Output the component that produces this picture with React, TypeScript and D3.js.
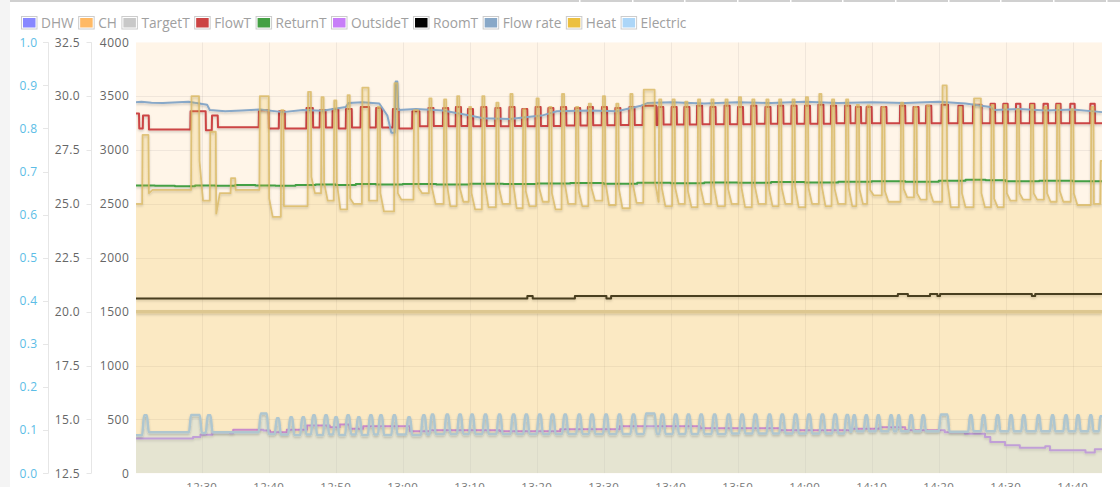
import React, { useEffect, useRef } from "react";
import * as d3 from "d3";

const W = 1120;
const H = 487;
const T0 = new Date(2024, 0, 1, 12, 20, 0).getTime();
const BEGIN = 0.19; // minutes after 12:20
const END = 144.37;

const legendNames = ["DHW", "CH", "TargetT", "FlowT", "ReturnT", "OutsideT", "RoomT", "Flow rate", "Heat", "Electric"];
const legendColors = ["#8888ff", "#ffb964", "#c8c8c8", "#cc4444", "#44a044", "#c77ef8", "#000000", "#88a8c8", "#ecc040", "#acd6f8"];

const stateTicks = [0, 0.1, 0.2, 0.3, 0.4, 0.5, 0.6, 0.7, 0.8, 0.9, 1.0];
const tempTicks = [12.5, 15, 17.5, 20, 22.5, 25, 27.5, 30, 32.5];
const heatTicks = [0, 500, 1000, 1500, 2000, 2500, 3000, 3500, 4000];

// CH state (0-1 axis) – on for the whole window
const chState: [number, number][] = [[BEGIN, 1], [END, 1]];

// TargetT (°C)
const targetT: [number, number][] = [[BEGIN, 20.0], [END, 20.0]];

// RoomT (°C), step series [minute, value]
const roomT: [number, number][] = [
  [BEGIN, 20.61], [58.6, 20.73], [59.4, 20.61], [65.7, 20.73], [70.4, 20.61], [71.1, 20.73],
  [113.9, 20.82], [115.4, 20.73], [118.7, 20.82], [119.8, 20.73], [120.2, 20.82], [133.9, 20.73], [134.4, 20.82], [END, 20.82],
];

// OutsideT (°C), step series
const outsideT: [number, number][] = [
  [BEGIN, 14.12], [8.7, 14.18], [9.8, 14.29], [11.6, 14.41], [14.2, 14.36], [14.7, 14.52], [19.2, 14.49], [20.2, 14.41],
  [22.7, 14.52], [25.7, 14.72], [29.1, 14.64], [30.6, 14.76], [32.1, 14.57], [34.1, 14.68], [41.1, 14.45], [44.1, 14.5],
  [54.5, 14.45], [63.5, 14.54], [72.4, 14.68], [84.4, 14.59], [96.3, 14.5], [106.8, 14.57], [111.2, 14.64], [115.0, 14.5],
  [120.9, 14.41], [123.9, 14.33], [126.9, 14.18], [127.7, 13.95], [129.9, 13.8], [132.1, 13.69], [135.9, 13.75],
  [136.6, 13.57], [141.9, 13.46], [143.3, 13.62], [END, 13.62],
];

// ReturnT (°C)
const returnT: [number, number][] = [
  [BEGIN, 25.86], [3, 25.84], [6, 25.82], [9, 25.86], [12, 25.84], [15, 25.88], [18, 25.86], [21, 25.84], [24, 25.88],
  [27, 25.9], [30, 25.88], [33, 25.92], [36, 25.9], [40, 25.93], [45, 25.9], [50, 25.94], [55, 25.92], [60, 25.95],
  [65, 25.97], [70, 25.94], [75, 25.98], [80, 25.96], [85, 26.0], [90, 25.98], [95, 26.02], [100, 26.0], [105, 26.03],
  [110, 26.05], [115, 26.03], [120, 26.08], [124, 26.12], [127, 26.1], [130, 26.05], [135, 26.07], [140, 26.05], [END, 26.04],
];

// Flow rate (0-1 axis)
const flowRate: [number, number][] = [
  [BEGIN, 0.861], [1.0, 0.862], [2.5, 0.86], [4.2, 0.859], [6.5, 0.861], [8.0, 0.862], [10.8, 0.855], [11.2, 0.843],
  [13.5, 0.84], [16.0, 0.842], [18.7, 0.844], [22.1, 0.838], [25.1, 0.843], [28.0, 0.841], [31.5, 0.85], [31.9, 0.859],
  [34.0, 0.861], [36.5, 0.858], [37.7, 0.83], [38.3, 0.79], [38.8, 0.79], [38.95, 0.909], [39.2, 0.909], [39.35, 0.843],
  [42.0, 0.845], [46, 0.842], [50.0, 0.83], [52, 0.824], [56, 0.822], [61.0, 0.831], [63.0, 0.84], [68, 0.842],
  [72, 0.84], [75.4, 0.852], [76.5, 0.859], [80, 0.861], [85, 0.858], [90, 0.861], [95, 0.859], [100, 0.862],
  [105, 0.859], [110, 0.861], [115, 0.859], [120, 0.862], [124, 0.858], [127.7, 0.85], [128.3, 0.843], [132, 0.845],
  [136, 0.842], [140, 0.844], [END, 0.838],
];

// FlowT pulses: [rise, fall, high °C, low °C after]
const flowTStart = 29.2;
const flowTPulses: number[][] = [
  [BEGIN, 0.65, 29.2, 28.5], [1.2, 2.1, 29.1, 28.45], [8.3, 10.6, 29.3, 28.42], [11.5, 12.4, 29.1, 28.56],
  [18.5, 20.0, 29.35, 28.5], [21.5, 22.4, 29.3, 28.5], [25.6, 26.6, 29.45, 28.55], [27.6, 28.5, 29.35, 28.55],
  [29.5, 30.4, 29.4, 28.5], [31.5, 32.4, 29.4, 28.55], [33.7, 35.0, 29.5, 28.55], [36.0, 36.9, 29.45, 28.55],
  [38.5, 39.4, 29.4, 28.5], [41.4, 42.5, 29.3, 28.6], [43.8, 44.6, 29.45, 28.62], [46.0, 46.8, 29.45, 28.6],
  [47.9, 48.7, 29.5, 28.62], [49.7, 50.5, 29.4, 28.6], [51.7, 52.5, 29.5, 28.62], [53.8, 54.6, 29.45, 28.6],
  [55.9, 56.7, 29.5, 28.62], [57.8, 58.6, 29.4, 28.6], [59.8, 60.6, 29.5, 28.62], [61.7, 62.5, 29.45, 28.62],
  [63.6, 64.4, 29.5, 28.64], [65.7, 66.5, 29.45, 28.64], [67.6, 68.4, 29.5, 28.65], [69.7, 70.5, 29.5, 28.65],
  [71.7, 72.5, 29.45, 28.66], [73.8, 74.6, 29.5, 28.66], [75.8, 77.8, 29.55, 28.66], [78.1, 78.9, 29.5, 28.68],
  [80.1, 80.9, 29.5, 28.68], [82.0, 82.8, 29.5, 28.68], [83.9, 84.7, 29.55, 28.7], [85.9, 86.7, 29.5, 28.7],
  [88.0, 88.8, 29.55, 28.7], [90.0, 90.8, 29.5, 28.7], [92.0, 92.8, 29.55, 28.72], [94.1, 94.9, 29.5, 28.72],
  [96.0, 96.8, 29.55, 28.72], [98.0, 98.8, 29.55, 28.72], [100.0, 100.8, 29.55, 28.72], [102.0, 102.8, 29.6, 28.72],
  [103.9, 104.7, 29.55, 28.74], [106.0, 106.8, 29.55, 28.74], [107.6, 108.4, 29.5, 28.74], [109.2, 110.0, 29.5, 28.74],
  [111.4, 112.2, 29.5, 28.74], [114.2, 115.0, 29.55, 28.74], [116.2, 117.0, 29.5, 28.74], [118.1, 118.9, 29.55, 28.74],
  [120.4, 121.4, 29.6, 28.74], [122.9, 123.6, 29.55, 28.74], [125.1, 126.4, 29.6, 28.74], [127.7, 128.4, 29.65, 28.74],
  [129.6, 130.3, 29.65, 28.74], [131.5, 132.2, 29.65, 28.74], [133.6, 134.3, 29.65, 28.74], [135.6, 136.3, 29.65, 28.74],
  [137.5, 138.2, 29.65, 28.74], [139.6, 140.3, 29.65, 28.74], [142.6, 143.3, 29.65, 28.74],
];

// Heat cycles: [rise, fall, peak W, level after drop W, trough W before next rise]
const heatStart = 2500;
const heatCycles: number[][] = [
  [1.1, 2.05, 3140, 2600, 2630], [8.4, 9.6, 3500, 2900, 2530], [11.2, 12.1, 3170, 2410, 2600],
  [14.3, 15.0, 2740, 2630, 2630], [18.6, 20.0, 3500, 2550, 2380], [21.8, 22.2, 3370, 2480, 2480],
  [25.8, 26.3, 3540, 2750, 2600], [27.8, 28.2, 3490, 2700, 2530], [29.7, 30.1, 3460, 2700, 2450],
  [31.7, 32.1, 3510, 2550, 2500], [33.9, 34.9, 3580, 2530, 2530], [36.2, 36.6, 3400, 2600, 2430],
  [38.7, 39.2, 3620, 2600, 2540], [41.6, 42.3, 3370, 2650, 2600], [43.9, 44.3, 3480, 2650, 2500],
  [46.1, 46.5, 3470, 2700, 2480], [48.05, 48.45, 3500, 2650, 2520], [49.85, 50.2, 3400, 2600, 2450],
  [51.8, 52.2, 3500, 2680, 2470], [53.9, 54.3, 3440, 2650, 2500], [56.0, 56.4, 3520, 2700, 2460],
  [57.9, 58.3, 3380, 2620, 2480], [59.9, 60.3, 3480, 2650, 2520], [61.8, 62.2, 3400, 2600, 2450],
  [63.7, 64.1, 3520, 2700, 2500], [65.8, 66.2, 3400, 2620, 2480], [67.7, 68.1, 3430, 2650, 2530],
  [69.8, 70.2, 3500, 2700, 2490], [71.8, 72.2, 3430, 2640, 2460], [73.9, 74.3, 3520, 2680, 2510],
  [75.9, 77.6, 3560, 2700, 2520], [78.2, 78.6, 3470, 2650, 2480], [80.2, 80.6, 3470, 2650, 2500],
  [82.1, 82.5, 3450, 2620, 2470], [84.0, 84.4, 3470, 2650, 2500], [86.0, 86.4, 3470, 2660, 2480],
  [88.1, 88.5, 3470, 2640, 2500], [90.1, 90.5, 3490, 2650, 2470], [92.1, 92.5, 3470, 2660, 2500],
  [94.2, 94.6, 3470, 2640, 2480], [96.1, 96.5, 3470, 2650, 2500], [98.1, 98.5, 3470, 2660, 2470],
  [100.1, 100.5, 3490, 2650, 2500], [102.1, 102.5, 3520, 2660, 2480], [104.0, 104.4, 3470, 2640, 2500],
  [106.1, 106.5, 3470, 2650, 2480], [107.7, 108.1, 3420, 2640, 2500], [109.3, 109.7, 3415, 2630, 2580],
  [111.5, 111.9, 3400, 2620, 2520], [114.3, 114.7, 3440, 2640, 2560], [116.3, 116.7, 3400, 2600, 2540],
  [118.2, 118.6, 3415, 2620, 2520], [120.5, 121.2, 3600, 2720, 2470], [123.0, 123.4, 3400, 2600, 2470],
  [125.2, 126.3, 3480, 2600, 2470], [127.8, 128.2, 3420, 2550, 2470], [129.7, 130.1, 3420, 2600, 2530],
  [131.6, 132.0, 3380, 2600, 2540], [133.7, 134.1, 3420, 2600, 2540], [135.7, 136.1, 3400, 2600, 2520],
  [137.6, 138.0, 3420, 2620, 2520], [139.7, 140.1, 3380, 2600, 2490], [142.7, 143.1, 3400, 2500, 2500],
  [144.1, 144.37, 2900, 2900, 2900],
];

// Electric humps: [start, end, peak W, base W after]
const electricStart = 353;
const electricHumps: number[][] = [
  [1.1, 1.9, 538, 380], [8.1, 9.8, 540, 375], [10.6, 11.4, 538, 380], [18.5, 19.8, 555, 365],
  [20.9, 21.6, 510, 360], [22.9, 23.6, 520, 355], [24.7, 25.4, 520, 360], [26.3, 27.0, 538, 355],
  [28.1, 28.8, 538, 360], [29.6, 30.3, 520, 355], [31.4, 32.1, 538, 360], [33.0, 33.7, 520, 355],
  [34.8, 35.5, 538, 360], [36.3, 37.0, 538, 355], [38.3, 39.0, 538, 360], [40.5, 41.2, 520, 355],
  [42.7, 43.4, 538, 360], [44.0, 44.7, 545, 365], [46.2, 46.9, 545, 365], [48.1, 48.8, 545, 365],
  [49.9, 50.6, 545, 365], [51.9, 52.6, 545, 365], [54.0, 54.7, 545, 365], [56.1, 56.8, 545, 365],
  [58.0, 58.7, 545, 365], [60.0, 60.7, 545, 365], [61.9, 62.6, 545, 365], [63.8, 64.5, 545, 365],
  [65.9, 66.6, 545, 365], [67.8, 68.5, 545, 365], [69.9, 70.6, 545, 365], [71.9, 72.6, 545, 365],
  [74.0, 74.7, 545, 365], [76.0, 77.7, 555, 365], [78.3, 79.0, 545, 365], [80.3, 81.0, 545, 365],
  [82.2, 82.9, 545, 365], [84.1, 84.8, 545, 365], [86.1, 86.8, 545, 365], [88.2, 88.9, 545, 370],
  [90.2, 90.9, 545, 370], [92.2, 92.9, 545, 370], [94.3, 95.0, 545, 370], [96.2, 96.9, 545, 370],
  [98.2, 98.9, 545, 370], [100.2, 100.9, 545, 370], [102.2, 102.9, 545, 370], [104.1, 104.8, 545, 370],
  [105.9, 106.6, 540, 385], [107.0, 107.6, 538, 390], [108.8, 109.4, 538, 390], [110.6, 111.2, 538, 390],
  [112.5, 113.1, 538, 390], [113.7, 114.2, 538, 390], [115.5, 116.1, 538, 390], [117.3, 117.9, 538, 390],
  [120.0, 121.4, 545, 385], [124.4, 125.0, 538, 390], [126.3, 126.9, 538, 390], [128.4, 129.0, 538, 390],
  [130.4, 131.0, 538, 390], [132.3, 132.9, 538, 390], [134.5, 135.1, 538, 390], [136.6, 137.2, 538, 390],
  [138.6, 139.2, 538, 390], [140.4, 141.0, 538, 390], [142.3, 142.9, 538, 390], [143.9, 144.37, 530, 530],
];

function buildPulses(start: number, rows: number[][], ramp: number): [number, number][] {
  const pts: [number, number][] = [[BEGIN, start]];
  let prev = start;
  rows.forEach((r, i) => {
    const [rise, fall, high, low] = r;
    const next = i < rows.length - 1 ? rows[i + 1][0] : END;
    const rr = Math.min(ramp, (fall - rise) / 2.2);
    if (rise > BEGIN) pts.push([rise, prev]);
    pts.push([Math.max(BEGIN, rise + rr), high]);
    pts.push([Math.max(BEGIN, fall - rr * 0.3), high]);
    pts.push([Math.min(fall + rr * 0.7, next - 0.01, END), low]);
    prev = low;
  });
  pts.push([END, prev]);
  return pts;
}

function buildHeat(): [number, number][] {
  const pts: [number, number][] = [[BEGIN, heatStart]];
  let prev = heatStart;
  heatCycles.forEach((c, i) => {
    const [rise, fall, peak, after, low] = c;
    const next = i < heatCycles.length - 1 ? heatCycles[i + 1][0] : END;
    pts.push([rise, prev]);
    pts.push([Math.min(rise + 0.07, END), peak]);
    if (fall < END) {
      pts.push([fall, peak]);
      const a = Math.min(fall + 0.07, next - 0.04);
      pts.push([a, after]);
      const b = Math.min(fall + 0.6, next - 0.02);
      if (b > a) pts.push([b, low]);
    }
    prev = low;
  });
  pts.push([END, prev]);
  return pts.filter((p) => p[0] <= END);
}

const toDate = (m: number) => new Date(T0 + m * 60000);

export default function App() {
  const ref = useRef<SVGSVGElement>(null);

  useEffect(() => {
    const svg = d3.select(ref.current);
    svg.selectAll("*").remove();

    const left = 136, right = 1102, top = 42.3, bottom = 473.3;
    const x = d3.scaleTime().domain([toDate(BEGIN), toDate(END)]).range([left, right]);
    const yState = d3.scaleLinear().domain([0, 1]).range([bottom, top]);
    const yTemp = d3.scaleLinear().domain([12.5, 32.5]).range([bottom, top]);
    const yHeat = d3.scaleLinear().domain([0, 4000]).range([bottom, top]);

    const defs = svg.append("defs");
    defs.append("clipPath").attr("id", "plotclip").append("rect")
      .attr("x", left).attr("y", top).attr("width", right - left).attr("height", bottom - top);
    const f = defs.append("filter").attr("id", "shadow").attr("filterUnits", "userSpaceOnUse")
      .attr("x", 0).attr("y", 0).attr("width", W).attr("height", H);
    f.append("feDropShadow").attr("dx", 0).attr("dy", 1.5).attr("stdDeviation", 0.9)
      .attr("flood-color", "#000").attr("flood-opacity", 0.2);

    // page chrome
    svg.append("rect").attr("x", 0).attr("y", 0).attr("width", W).attr("height", H).attr("fill", "#fff");
    svg.append("rect").attr("x", 0).attr("y", 0).attr("width", 10).attr("height", H).attr("fill", "#f4f4f4");
    svg.append("rect").attr("x", 10).attr("y", 0).attr("width", W - 10).attr("height", 2).attr("fill", "#d0d0d0");
    [579, 632, 684, 737, 790, 842, 895, 948, 1000, 1053, 1106].forEach((gx) => {
      svg.append("rect").attr("x", gx).attr("y", 0).attr("width", 1.5).attr("height", 2).attr("fill", "#fff");
    });

    // legend
    const lg = svg.append("g");
    let lx = 21;
    legendNames.forEach((name, i) => {
      lg.append("rect").attr("x", lx + 0.5).attr("y", 16.5).attr("width", 15.5).attr("height", 12.5)
        .attr("fill", "#fff").attr("stroke", "#cccccc");
      lg.append("rect").attr("x", lx + 2).attr("y", 18).attr("width", 12.5).attr("height", 9.5).attr("fill", legendColors[i]);
      const t = lg.append("text").attr("x", lx + 20).attr("y", 28.3).text(name)
        .attr("font-family", "'Open Sans', sans-serif").attr("font-size", 13.7)
        .attr("fill", "#a0a0a0");
      const w = (t.node() as SVGTextElement).getComputedTextLength();
      lx = lx + 20 + w + 4.5;
    });

    // axes
    const axisFont = "'Open Sans', sans-serif";
    const ag = svg.append("g");
    ag.append("line").attr("x1", 48.5).attr("x2", 48.5).attr("y1", top).attr("y2", bottom).attr("stroke", "#e6e6e6");
    ag.append("line").attr("x1", 91.5).attr("x2", 91.5).attr("y1", top).attr("y2", bottom).attr("stroke", "#e6e6e6");
    stateTicks.forEach((v) => {
      const y = yState(v);
      ag.append("line").attr("x1", 43).attr("x2", 48.5).attr("y1", Math.round(y) + 0.5).attr("y2", Math.round(y) + 0.5).attr("stroke", "#e6e6e6");
      ag.append("text").attr("x", 37.5).attr("y", y + 4.2).attr("text-anchor", "end").text(d3.format(".1f")(v))
        .attr("font-family", axisFont).attr("font-size", 12).attr("letter-spacing", 0.4).attr("fill", "#5cbde6");
    });
    tempTicks.forEach((v) => {
      const y = yTemp(v);
      ag.append("line").attr("x1", 86.5).attr("x2", 91.5).attr("y1", Math.round(y) + 0.5).attr("y2", Math.round(y) + 0.5).attr("stroke", "#e6e6e6");
      ag.append("text").attr("x", 80).attr("y", y + 4.2).attr("text-anchor", "end").text(d3.format(".1f")(v))
        .attr("font-family", axisFont).attr("font-size", 12).attr("letter-spacing", 0.4).attr("fill", "#666");
    });
    heatTicks.forEach((v) => {
      const y = yHeat(v);
      ag.append("text").attr("x", 129.3).attr("y", y + 4.2).attr("text-anchor", "end").text(String(v))
        .attr("font-family", axisFont).attr("font-size", 12).attr("letter-spacing", 0.5).attr("fill", "#666");
    });

    const xTicks = x.ticks(d3.timeMinute.every(10) as any);
    xTicks.forEach((d) => {
      ag.append("text").attr("x", x(d)).attr("y", 491).attr("text-anchor", "middle").text(d3.timeFormat("%H:%M")(d))
        .attr("font-family", axisFont).attr("font-size", 11.5).attr("letter-spacing", 0.3).attr("fill", "#777");
    });

    // plot
    const pg = svg.append("g").attr("clip-path", "url(#plotclip)");

    // CH fill
    const chArea = d3.area<[number, number]>().x((d) => x(toDate(d[0]))).y0(bottom).y1((d) => yState(d[1]));
    pg.append("path").datum(chState).attr("d", chArea).attr("fill", "#ffb964").attr("fill-opacity", 0.15);

    // grid
    const gg = pg.append("g");
    xTicks.forEach((d) => {
      gg.append("line").attr("x1", Math.round(x(d)) + 0.5).attr("x2", Math.round(x(d)) + 0.5).attr("y1", top).attr("y2", bottom)
        .attr("stroke", "#545454").attr("stroke-opacity", 0.09);
    });
    heatTicks.forEach((v) => {
      if (v === 0 || v === 4000) return;
      const y = Math.round(yHeat(v)) + 0.5;
      gg.append("line").attr("x1", left).attr("x2", right).attr("y1", y).attr("y2", y)
        .attr("stroke", "#545454").attr("stroke-opacity", 0.09);
    });

    const lineTemp = d3.line<[number, number]>().x((d) => x(toDate(d[0]))).y((d) => yTemp(d[1]));
    const lineTempStep = d3.line<[number, number]>().x((d) => x(toDate(d[0]))).y((d) => yTemp(d[1])).curve(d3.curveStepAfter);
    const lineState = d3.line<[number, number]>().x((d) => x(toDate(d[0]))).y((d) => yState(d[1]));
    const lineHeat = d3.line<[number, number]>().x((d) => x(toDate(d[0]))).y((d) => yHeat(d[1]));
    const areaHeat = d3.area<[number, number]>().x((d) => x(toDate(d[0]))).y0(bottom).y1((d) => yHeat(d[1]));
    const lineElec = d3.line<[number, number]>().x((d) => x(toDate(d[0]))).y((d) => yHeat(d[1])).curve(d3.curveMonotoneX);
    const areaElec = d3.area<[number, number]>().x((d) => x(toDate(d[0]))).y0(bottom).y1((d) => yHeat(d[1])).curve(d3.curveMonotoneX);

    const stroke = (data: [number, number][], gen: any, color: string, width: number, opacity = 1) => {
      return pg.append("path").datum(data).attr("d", gen).attr("fill", "none").attr("stroke", color)
        .attr("stroke-width", width).attr("stroke-linejoin", "round").attr("stroke-opacity", opacity)
        .attr("filter", "url(#shadow)");
    };

    // TargetT
    stroke(targetT, lineTemp, "#d9c9a7", 3.5);
    // FlowT
    stroke(buildPulses(flowTStart, flowTPulses, 0.04), lineTemp, "#cc4444", 2);
    // ReturnT
    stroke(returnT, lineTempStep, "#44a044", 2);
    // OutsideT
    stroke(outsideT, lineTempStep, "#c07cf2", 2);
    // RoomT
    stroke(roomT, lineTempStep, "#1c1a14", 2);
    // Flow rate
    stroke(flowRate, lineState, "#88a8c8", 2);

    // Heat
    const heat = buildHeat();
    pg.append("path").datum(heat).attr("d", areaHeat).attr("fill", "#ecc040").attr("fill-opacity", 0.22);
    stroke(heat, lineHeat, "#d9b964", 1.8, 0.8);

    // Electric
    const elec = buildPulses(electricStart, electricHumps, 0.3);
    pg.append("path").datum(elec).attr("d", areaElec).attr("fill", "#acd6f8").attr("fill-opacity", 0.28);
    stroke(elec, lineElec, "#afc6cf", 2.5);
  }, []);

  return (
    <svg ref={ref} width={W} height={H} style={{ position: "fixed", left: 0, top: 0, display: "block" }} />
  );
}
